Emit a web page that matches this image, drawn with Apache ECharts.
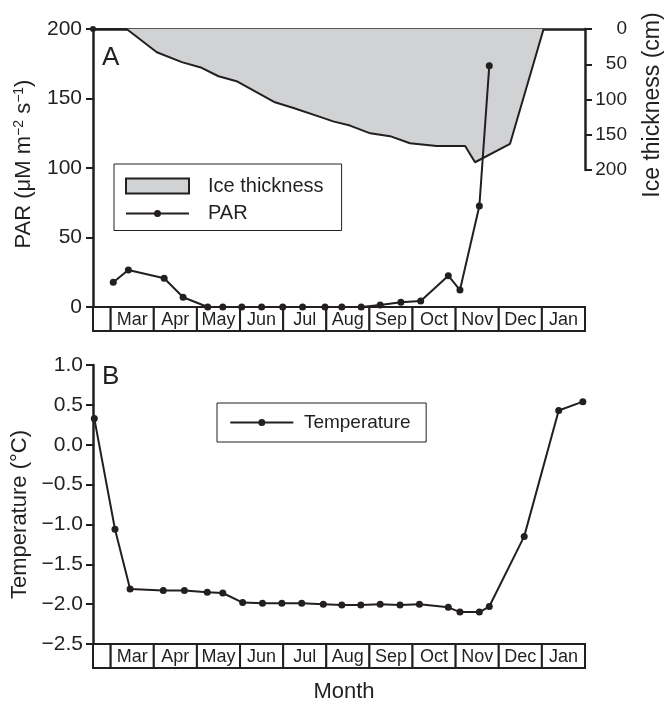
<!DOCTYPE html>
<html><head><meta charset="utf-8">
<script src="https://cdn.jsdelivr.net/npm/echarts@6/dist/echarts.min.js"></script>
<style>html,body{margin:0;padding:0;background:#fff}#c{width:665px;height:701px}</style>
</head><body><div id="c"></div>
<script>
// ---- data (x in months since 1 March) ----
const monthLabels = ['', 'Mar', 'Apr', 'May', 'Jun', 'Jul', 'Aug', 'Sep', 'Oct', 'Nov', 'Dec', 'Jan'];
const monthStart = [-0.41, 0, 1, 2, 3, 4, 5, 6, 7, 8, 9, 10];
const monthEnd = [0, 1, 2, 3, 4, 5, 6, 7, 8, 9, 10, 11];

const iceX = [-0.41, 0.37, 1.07, 1.65, 2.11, 2.50, 2.92, 3.81, 4.24, 4.82, 5.16, 5.55, 6.02, 6.48, 6.94, 7.56, 8.22, 8.45, 9.26, 10.04];
const iceCm = [0, 0, 33, 47, 55, 67, 74, 104, 112, 124, 131, 137, 148, 152, 162, 166, 166, 189, 163, 0];

const parX = [0.06, 0.41, 1.24, 1.68, 2.25, 2.60, 3.04, 3.50, 3.99, 4.45, 4.97, 5.36, 5.81, 6.25, 6.73, 7.19, 7.83, 8.10, 8.55, 8.78];
const parVal = [17.8, 26.6, 20.7, 7.0, 0, 0, 0, 0, 0, 0, 0, 0, 0, 1.4, 3.4, 4.3, 22.5, 12.2, 72.7, 173.5];

const tempX = [-0.38, 0.10, 0.45, 1.22, 1.71, 2.24, 2.60, 3.06, 3.52, 3.97, 4.43, 4.93, 5.36, 5.80, 6.25, 6.71, 7.16, 7.83, 8.10, 8.55, 8.78, 9.59, 10.39, 10.95];
const tempVal = [0.33, -1.06, -1.81, -1.83, -1.83, -1.85, -1.86, -1.98, -1.99, -1.99, -1.99, -2.00, -2.01, -2.01, -2.00, -2.01, -2.00, -2.04, -2.10, -2.10, -2.03, -1.15, 0.43, 0.54];

// ---- styling ----
const INK = '#231f20';
const ICE = '#d1d2d4';
const FF = '"Liberation Sans", Arial, Helvetica, sans-serif';
const X_MIN = monthStart[0], X_MAX = monthEnd[monthEnd.length - 1];

const zip = (xs, ys) => xs.map((x, i) => [x, ys[i]]);
const monthData = monthStart.map((s, i) => [s, monthEnd[i]]);

function renderMonths(params, api) {
  const a = api.coord([api.value(0), 1]);
  const b = api.coord([api.value(1), 0]);
  return {
    type: 'group',
    children: [
      { type: 'rect', shape: { x: a[0], y: a[1], width: b[0] - a[0], height: b[1] - a[1] },
        style: { fill: '#fff', stroke: INK, lineWidth: 2 } },
      { type: 'text', x: (a[0] + b[0]) / 2, y: (a[1] + b[1]) / 2 + 1,
        style: { text: monthLabels[params.dataIndex], align: 'center', verticalAlign: 'middle',
                 textAlign: 'center', textVerticalAlign: 'middle',
                 fill: INK, font: '18px ' + FF } }
    ]
  };
}

const hiddenX = (gi) => ({ type: 'value', gridIndex: gi, min: X_MIN, max: X_MAX, show: false });
const hiddenY = (gi) => ({ type: 'value', gridIndex: gi, min: 0, max: 1, show: false });
const axLine = { show: true, onZero: false, lineStyle: { color: INK, width: 2.5 } };
const axTick = { show: true, inside: false, length: 7, lineStyle: { color: INK, width: 2 } };
const labStyle = { color: INK, fontSize: 21, fontFamily: FF };
const G = (top, height) => ({ left: 93, right: 80, top, height, containLabel: false, outerBoundsMode: 'none' });

const parIcon = 'path://M0,0M63,15M0,6.5L63,6.5L63,8.5L0,8.5Z M35,7.5A3.5,3.5,0,1,1,28,7.5A3.5,3.5,0,1,1,35,7.5Z';

const option = {
  animation: false,
  backgroundColor: '#fff',
  grid: [
    G(29, 278),   // 0 PAR
    G(307, 24),   // 1 month boxes (A)
    G(29, 141),   // 2 ice thickness
    G(365, 279),  // 3 temperature
    G(644, 24)    // 4 month boxes (B)
  ],
  xAxis: [
    hiddenX(0),
    hiddenX(1),
    { type: 'value', gridIndex: 2, min: X_MIN, max: X_MAX, position: 'top',
      axisLine: axLine, axisTick: { show: false }, axisLabel: { show: false }, splitLine: { show: false } },
    hiddenX(3),
    hiddenX(4)
  ],
  yAxis: [
    { type: 'value', gridIndex: 0, min: 0, max: 200, interval: 50,
      axisLine: axLine, axisTick: axTick, splitLine: { show: false },
      axisLabel: Object.assign({ margin: 11 }, labStyle),
      name: '{a|PAR (μM m}{sup|−2}{a| s}{sup|−1}{a|)}', nameLocation: 'middle', nameRotate: 90, nameGap: 57,
      nameTextStyle: { color: INK, fontFamily: FF, fontSize: 22, padding: [0, 0, 0, 8],
        rich: { a: { fontSize: 22, fontFamily: FF, color: INK, lineHeight: 24 },
                sup: { fontSize: 14, fontFamily: FF, color: INK, lineHeight: 14, verticalAlign: 'top' } } } },
    hiddenY(1),
    { type: 'value', gridIndex: 2, position: 'right', inverse: true, min: 0, max: 200, interval: 50,
      axisLine: axLine, axisTick: axTick, splitLine: { show: false },
      axisLabel: { margin: 42, align: 'right', color: INK, fontSize: 19, fontFamily: FF },
      name: 'Ice thickness (cm)', nameLocation: 'middle', nameRotate: 90, nameGap: 56,
      nameTextStyle: { color: INK, fontFamily: FF, fontSize: 23, padding: [0, 11, 0, 0] } },
    { type: 'value', gridIndex: 3, min: -2.5, max: 1.0, interval: 0.5,
      axisLine: axLine, axisTick: axTick, splitLine: { show: false },
      axisLabel: Object.assign({ margin: 10, formatter: v => v.toFixed(1).replace('-', '−') }, labStyle),
      name: 'Temperature (°C)', nameLocation: 'middle', nameRotate: 90, nameGap: 57,
      nameTextStyle: { color: INK, fontFamily: FF, fontSize: 22, padding: [0, 20, 0, 0] } },
    hiddenY(4)
  ],
  legend: [
    { orient: 'vertical', left: 114, top: 164, itemWidth: 63, itemHeight: 15, itemGap: 5.5,
      padding: [11, 18, 6, 11], borderColor: INK, borderWidth: 1, backgroundColor: '#fff',
      selectedMode: false,
      textStyle: { fontSize: 20, color: INK, fontFamily: FF, lineHeight: 22, padding: [0, 0, 0, 14] },
      data: [
        { name: 'Ice thickness', icon: 'rect', itemStyle: { color: ICE, borderColor: INK, borderWidth: 2 } },
        { name: 'PAR', icon: parIcon, itemStyle: { color: INK, borderWidth: 0 } }
      ] },
    { orient: 'vertical', left: 217, top: 403, itemWidth: 63, itemHeight: 15,
      padding: [8.5, 15.6, 8.5, 13.3], borderColor: INK, borderWidth: 1, backgroundColor: '#fff',
      selectedMode: false,
      textStyle: { fontSize: 19, color: INK, fontFamily: FF, lineHeight: 22, padding: [0, 0, 0, 5.6] },
      data: [ { name: 'Temperature', icon: parIcon, itemStyle: { color: INK, borderWidth: 0 } } ] }
  ],
  graphic: [
    { type: 'text', x: 102, y: 58, z: 10,
      style: { text: 'A', font: '26px ' + FF, fill: INK, verticalAlign: 'middle', textVerticalAlign: 'middle' } },
    { type: 'text', x: 102, y: 377, z: 10,
      style: { text: 'B', font: '26px ' + FF, fill: INK, verticalAlign: 'middle', textVerticalAlign: 'middle' } },
    { type: 'text', x: 344, y: 692, z: 10,
      style: { text: 'Month', font: '22px ' + FF, fill: INK, align: 'center', textAlign: 'center',
               verticalAlign: 'middle', textVerticalAlign: 'middle' } }
  ],
  series: [
    { name: 'Ice thickness', type: 'line', xAxisIndex: 2, yAxisIndex: 2, z: 2,
      data: zip(iceX, iceCm), symbol: 'circle',
      symbolSize: (v, p) => (p.dataIndex === 0 ? 6 : 0), showAllSymbol: true,
      itemStyle: { color: INK }, lineStyle: { color: INK, width: 2 },
      areaStyle: { color: ICE, opacity: 1 } },
    { name: 'PAR', type: 'line', xAxisIndex: 0, yAxisIndex: 0, z: 4,
      data: zip(parX, parVal), symbol: 'circle', symbolSize: 7, showAllSymbol: true,
      itemStyle: { color: INK }, lineStyle: { color: INK, width: 2 } },
    { name: 'monthsA', type: 'custom', xAxisIndex: 1, yAxisIndex: 1, z: 3,
      data: monthData, renderItem: renderMonths, encode: { x: [0, 1] } },
    { name: 'Temperature', type: 'line', xAxisIndex: 3, yAxisIndex: 3, z: 4,
      data: zip(tempX, tempVal), symbol: 'circle', symbolSize: 7, showAllSymbol: true,
      itemStyle: { color: INK }, lineStyle: { color: INK, width: 2 } },
    { name: 'monthsB', type: 'custom', xAxisIndex: 4, yAxisIndex: 4, z: 3,
      data: monthData, renderItem: renderMonths, encode: { x: [0, 1] } }
  ]
};

const chart = echarts.init(document.getElementById('c'), null, { renderer: 'canvas' });
chart.setOption(option);
</script>
</body></html>
